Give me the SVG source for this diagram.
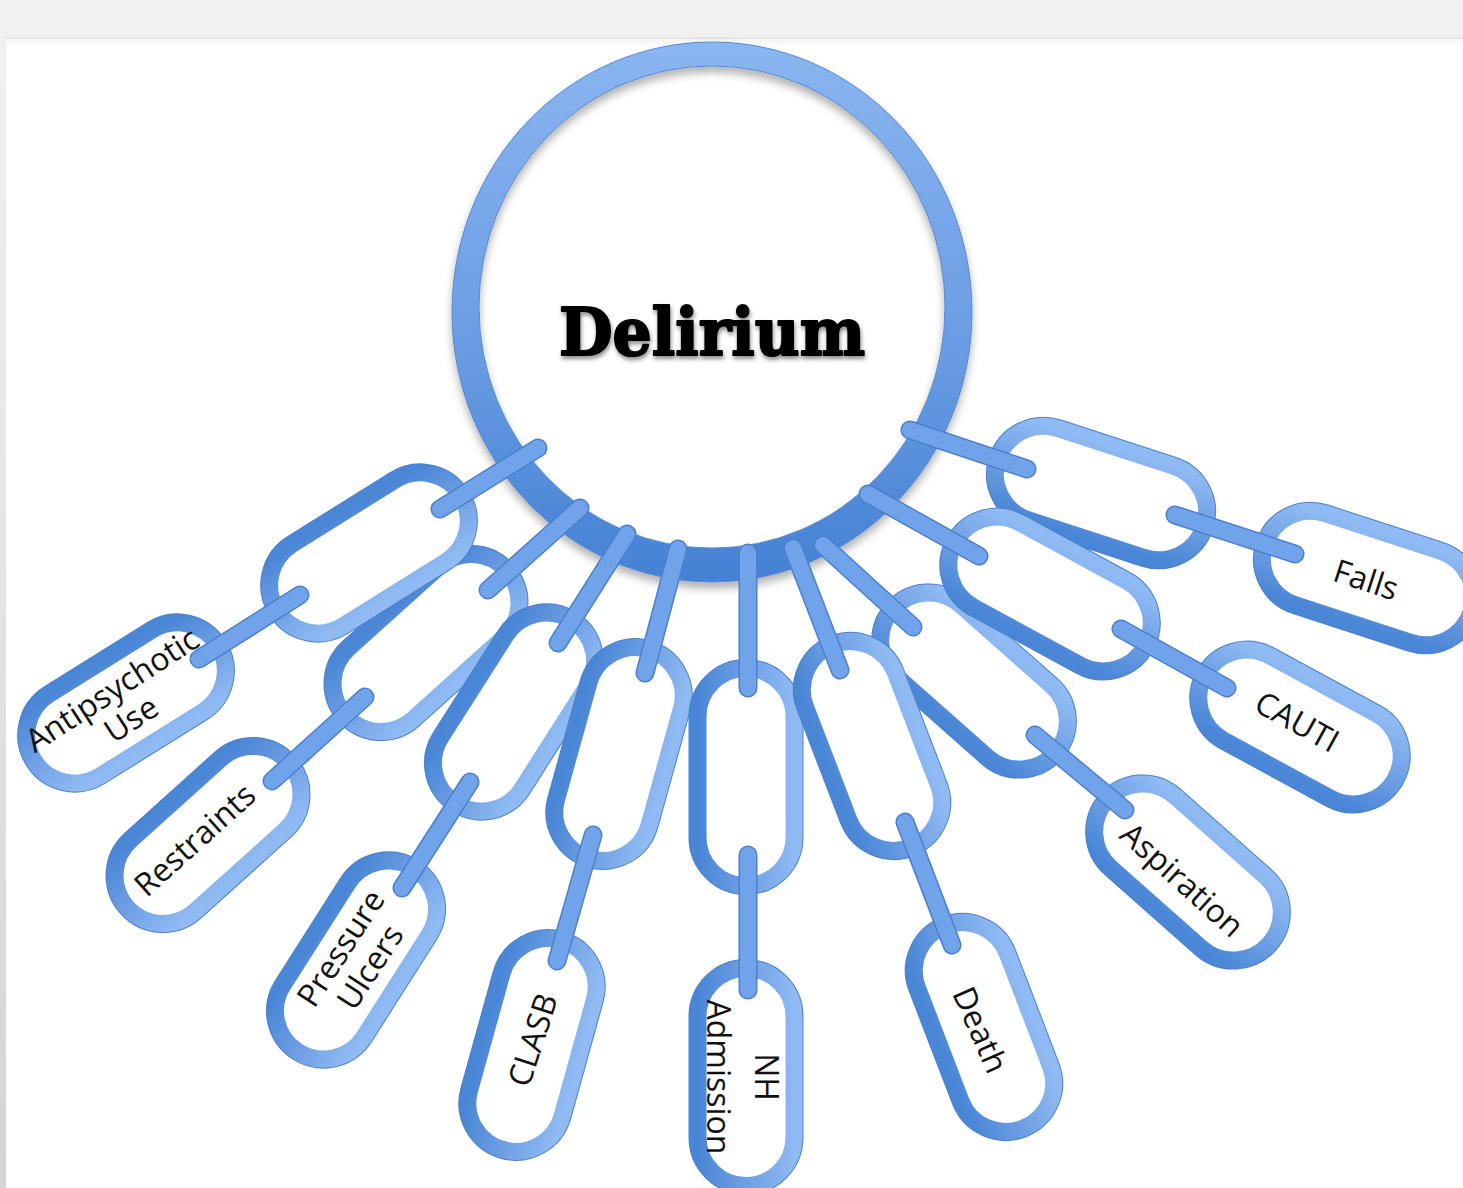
<svg xmlns="http://www.w3.org/2000/svg" width="1463" height="1188" viewBox="0 0 1463 1188">
<defs>
<style>
.lk{fill:#fff;stroke:url(#lg);stroke-width:17}
.lko{fill:none;stroke:#4b80cc;stroke-width:19}
.bo{stroke:#4a80cc;stroke-width:19;stroke-linecap:round;fill:none}
.bi{stroke:#70a3ea;stroke-width:16;stroke-linecap:round;fill:none}
.t{font-family:"Open Sans","Liberation Sans",sans-serif;font-size:32px;fill:#111;text-anchor:middle}
</style>
<linearGradient id="lg" x1="0" y1="0" x2="0" y2="1">
<stop offset="0" stop-color="#8fbaf3"/>
<stop offset="0.5" stop-color="#6e9fe4"/>
<stop offset="1" stop-color="#4a86d6"/>
</linearGradient>
<linearGradient id="rg" x1="0" y1="0" x2="0" y2="1">
<stop offset="0" stop-color="#8ab6f1"/>
<stop offset="0.55" stop-color="#6b9de3"/>
<stop offset="1" stop-color="#4481d4"/>
</linearGradient>
<linearGradient id="side" x1="0" y1="0" x2="0" y2="1">
<stop offset="0" stop-color="#f1f1f1"/>
<stop offset="1" stop-color="#d4d4d4"/>
</linearGradient>
<linearGradient id="topsh" x1="0" y1="0" x2="0" y2="1">
<stop offset="0" stop-color="#f3f3f3"/>
<stop offset="1" stop-color="#ffffff"/>
</linearGradient>
<filter id="sh" x="-10%" y="-10%" width="120%" height="125%">
<feDropShadow dx="0" dy="6" stdDeviation="4" flood-color="#000" flood-opacity="0.3"/>
</filter>
<filter id="tsh" x="-10%" y="-20%" width="120%" height="150%">
<feDropShadow dx="1" dy="3" stdDeviation="2" flood-color="#000" flood-opacity="0.45"/>
</filter>
<g id="link">
<rect class="lko" x="-108.5" y="-48" width="217" height="96" rx="48"/>
<rect class="lk" x="-108.5" y="-48" width="217" height="96" rx="48"/>
</g>
</defs>

<rect x="0" y="0" width="1463" height="1188" fill="#f1f1f1"/>
<rect x="0" y="39" width="6" height="1149" fill="url(#side)"/>
<rect x="6" y="37" width="1457" height="2" fill="#e6e6e6"/>
<rect x="6" y="39" width="1457" height="1149" fill="#ffffff"/>
<rect x="6" y="39" width="1457" height="8" fill="url(#topsh)"/>

<g id="delirium">
<path filter="url(#sh)" fill="url(#rg)" stroke="#5589d4" stroke-width="1" fill-rule="evenodd" d="M452,312 A260,270 0 1,0 972,312 A260,270 0 1,0 452,312 Z M479,307 A233,241 0 1,1 945,307 A233,241 0 1,1 479,307 Z"/>
<text x="712" y="355" font-family="'DejaVu Serif','Liberation Serif',serif" font-weight="bold" font-size="66" textLength="306" lengthAdjust="spacingAndGlyphs" text-anchor="middle" fill="#000" stroke="#000" stroke-width="2.2" stroke-linejoin="round" filter="url(#tsh)">Delirium</text>
</g>

<g id="links">
<use href="#link" transform="translate(426,643) rotate(138)"/>
<use href="#link" transform="translate(369,553) rotate(148)"/>
<use href="#link" transform="translate(514,712) rotate(122.5)"/>
<use href="#link" transform="translate(619,754) rotate(105.5)"/>
<use href="#link" transform="translate(746,777) rotate(90)"/>
<use href="#link" transform="translate(1101,493) rotate(18)"/>
<use href="#link" transform="translate(974,681) rotate(41.5)"/>
<use href="#link" transform="translate(1050,594) rotate(28.5)"/>
<use href="#link" transform="translate(872,746) rotate(69)"/>
</g>

<g id="node-antipsychotic">
<use href="#link" transform="translate(126,703) rotate(148)"/>
</g>
<g id="node-restraints">
<use href="#link" transform="translate(208,835) rotate(138)"/>
</g>
<g id="node-pressure">
<use href="#link" transform="translate(356,960) rotate(122.5)"/>
</g>
<g id="node-clasb">
<use href="#link" transform="translate(532,1045) rotate(105.5)"/>
</g>
<g id="node-nh">
<use href="#link" transform="translate(746,1077) rotate(90)"/>
</g>
<g id="node-death">
<use href="#link" transform="translate(984,1027) rotate(69)"/>
</g>
<g id="node-aspiration">
<use href="#link" transform="translate(1188,872) rotate(41.5)"/>
</g>
<g id="node-cauti">
<use href="#link" transform="translate(1300,727) rotate(28.5)"/>
</g>
<g id="node-falls">
<use href="#link" transform="translate(1368,578) rotate(18)"/>
</g>

<g id="connectors">
<path class="bo" d="M538,448L440,509M300,595L199,659M580,508L488,590M365,697L272,781M627,534L558,643M470,782L402,888M678,549L645,673M593,835L557,961M748,553L748,688M748,855L748,990M793,548L840,670M905,822L952,945M823,545L913,627M1035,735L1125,810M868,494L979,556M1121,629L1227,688M910,430L1027,469M1175,515L1295,554"/>
<path class="bi" d="M538,448L440,509M300,595L199,659M580,508L488,590M365,697L272,781M627,534L558,643M470,782L402,888M678,549L645,673M593,835L557,961M748,553L748,688M748,855L748,990M793,548L840,670M905,822L952,945M823,545L913,627M1035,735L1125,810M868,494L979,556M1121,629L1227,688M910,430L1027,469M1175,515L1295,554"/>
</g>

<g id="labels">
<g transform="translate(122,705) rotate(-33)">
<text class="t" x="0" y="-7">Antipsychotic</text>
<text class="t" x="0" y="28">Use</text>
</g>
<text class="t" transform="translate(195,840) rotate(-42)" x="0" y="11">Restraints</text>
<g transform="translate(356,958) rotate(-57)">
<text class="t" x="0" y="-7">Pressure</text>
<text class="t" x="0" y="28">Ulcers</text>
</g>
<text class="t" transform="translate(533,1040) rotate(-72)" x="0" y="11">CLASB</text>
<g transform="translate(742,1077) rotate(90)">
<text class="t" x="0" y="-13">NH</text>
<text class="t" x="0" y="35">Admission</text>
</g>
<text class="t" transform="translate(980,1030) rotate(66)" x="0" y="11">Death</text>
<text class="t" transform="translate(1182,880) rotate(42)" x="0" y="11">Aspiration</text>
<text class="t" transform="translate(1297,722) rotate(29)" x="0" y="11">CAUTI</text>
<text class="t" transform="translate(1366,580) rotate(18)" x="0" y="11">Falls</text>
</g>
</svg>
